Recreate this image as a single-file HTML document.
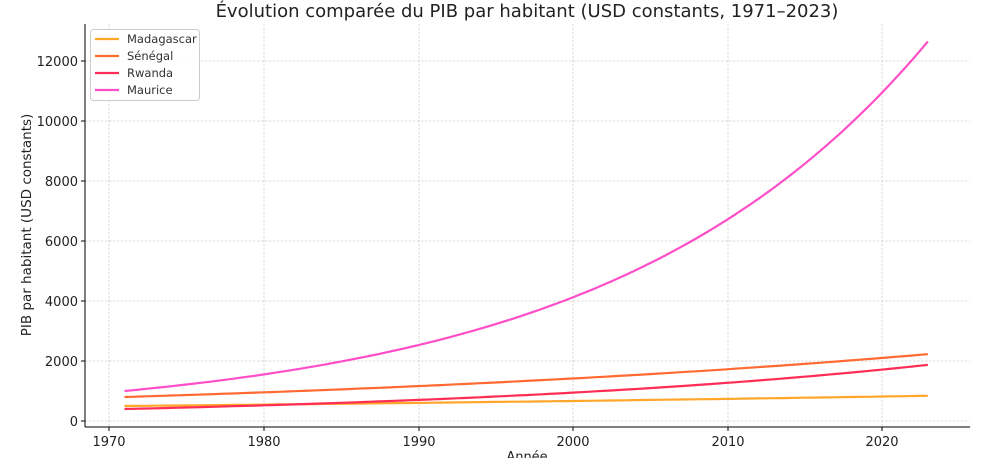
<!DOCTYPE html>
<html><head><meta charset="utf-8"><style>
html,body{margin:0;padding:0;background:#fff;}
svg{display:block;font-family:"DejaVu Sans","Liberation Sans",sans-serif;}
</style></head><body>
<svg id="s" width="996" height="458" viewBox="0 0 996 458" xmlns="http://www.w3.org/2000/svg">
<g stroke="#cfcfcf" stroke-width="0.8" stroke-dasharray="2.5,1.5">
<line x1="109" y1="24" x2="109" y2="427"/><line x1="264" y1="24" x2="264" y2="427"/>
<line x1="419" y1="24" x2="419" y2="427"/><line x1="573" y1="24" x2="573" y2="427"/>
<line x1="728" y1="24" x2="728" y2="427"/><line x1="882" y1="24" x2="882" y2="427"/>
<line x1="85" y1="421" x2="970" y2="421"/><line x1="85" y1="361" x2="970" y2="361"/>
<line x1="85" y1="301" x2="970" y2="301"/><line x1="85" y1="241" x2="970" y2="241"/>
<line x1="85" y1="181" x2="970" y2="181"/><line x1="85" y1="121" x2="970" y2="121"/>
<line x1="85" y1="61" x2="970" y2="61"/>
</g>
<g id="lines" fill="none" stroke-width="2.2"></g>
<g stroke="#000" stroke-width="1">
<line x1="85" y1="24" x2="85" y2="427"/><line x1="85" y1="427" x2="970" y2="427"/>
<line x1="109" y1="427" x2="109" y2="431"/><line x1="264" y1="427" x2="264" y2="431"/>
<line x1="419" y1="427" x2="419" y2="431"/><line x1="573" y1="427" x2="573" y2="431"/>
<line x1="728" y1="427" x2="728" y2="431"/><line x1="882" y1="427" x2="882" y2="431"/>
<line x1="81" y1="421" x2="85" y2="421"/><line x1="81" y1="361" x2="85" y2="361"/>
<line x1="81" y1="301" x2="85" y2="301"/><line x1="81" y1="241" x2="85" y2="241"/>
<line x1="81" y1="181" x2="85" y2="181"/><line x1="81" y1="121" x2="85" y2="121"/>
<line x1="81" y1="61" x2="85" y2="61"/>
</g>
<g font-size="13" fill="#222" text-anchor="middle">
<text x="109" y="446">1970</text><text x="264" y="446">1980</text><text x="419" y="446">1990</text>
<text x="573" y="446">2000</text><text x="728" y="446">2010</text><text x="882" y="446">2020</text>
<text x="527" y="461">Année</text>
</g>
<g font-size="13" fill="#222" text-anchor="end">
<text x="78" y="426">0</text><text x="78" y="366">2000</text><text x="78" y="306">4000</text>
<text x="78" y="246">6000</text><text x="78" y="186">8000</text><text x="78" y="126">10000</text>
<text x="78" y="66">12000</text>
</g>
<text x="31" y="225" font-size="13.5" fill="#222" text-anchor="middle" transform="rotate(-90 31 225)">PIB par habitant (USD constants)</text>
<text x="527" y="17" font-size="18" fill="#222" text-anchor="middle">Évolution comparée du PIB par habitant (USD constants, 1971–2023)</text>
<rect x="90.5" y="29.5" width="109" height="71" rx="3" fill="#fff" fill-opacity="0.85" stroke="#ccc"/>
<g stroke-width="2.2">
<line x1="95" y1="39" x2="119" y2="39" stroke="#ffa62b"/>
<line x1="95" y1="56" x2="119" y2="56" stroke="#ff6a33"/>
<line x1="95" y1="73" x2="119" y2="73" stroke="#ff2d55"/>
<line x1="95" y1="90" x2="119" y2="90" stroke="#ff4fc8"/>
</g>
<g font-size="11.5" fill="#333">
<text x="127" y="43">Madagascar</text><text x="127" y="60">Sénégal</text>
<text x="127" y="77">Rwanda</text><text x="127" y="94">Maurice</text>
</g>
</svg>
<script>
var S=[["#ffa62b",500,0.00998],["#ff6a33",800,0.0197],["#ff2d55",400,0.02966],["#ff4fc8",1000,0.0488]];
var g=document.getElementById("lines"),ns="http://www.w3.org/2000/svg";
S.forEach(function(s){var p=[];for(var y=1971;y<=2023;y+=0.5){var v=s[1]*Math.exp(s[2]*(y-1971));p.push((109+(y-1970)*15.45).toFixed(1)+","+(421-v*0.03).toFixed(1));}
var e=document.createElementNS(ns,"polyline");e.setAttribute("points",p.join(" "));e.setAttribute("stroke",s[0]);g.appendChild(e);});
</script>
</body></html>
